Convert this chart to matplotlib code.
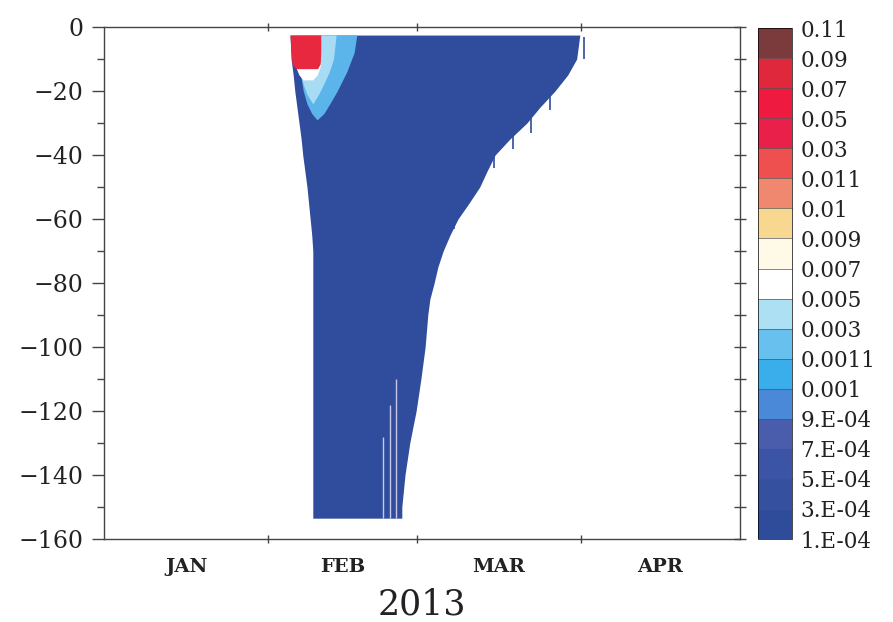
import numpy as np
import matplotlib
matplotlib.use('Agg')
import matplotlib.pyplot as plt
from matplotlib.colors import ListedColormap, BoundaryNorm
import matplotlib.colorbar as mcolorbar

# ── data (days since 1 Jan 2013, depth in m) ───────────────────────────────
# main plume (1e-4 .. 3e-4 band)
plume_depth = [-2.5, -10, -15, -20, -25, -30, -35, -40, -45, -50, -55, -60,
               -65, -70, -75, -80, -85, -90, -100, -110, -120, -130, -140,
               -150, -153.5]
plume_left = [35.1, 35.3, 35.7, 36.0, 36.4, 36.8, 37.2, 37.5, 37.9, 38.3,
              38.6, 38.9, 39.2, 39.4, 39.4, 39.4, 39.4, 39.4, 39.4, 39.4,
              39.4, 39.4, 39.4, 39.4, 39.4]
plume_right = [89.8, 89.2, 87.5, 85.1, 82.3, 79.8, 76.6, 73.8, 72.3, 70.9,
               68.9, 66.8, 65.3, 64.0, 63.0, 62.3, 61.5, 61.1, 60.6, 59.8,
               58.9, 57.7, 56.8, 56.2, 56.2]

# 0.0011 .. 0.003 band
mid_depth = [-2.5, -8, -14, -20, -24, -27, -29]
mid_left = [36.5, 36.6, 37.0, 37.6, 38.3, 39.2, 40.2]
mid_right = [47.7, 47.2, 45.8, 44.0, 42.6, 41.5, 40.2]

# 0.003 .. 0.005 band
pale_depth = [-2.5, -10, -14, -18, -21, -24]
pale_left = [40.9, 36.8, 37.0, 37.6, 38.3, 39.4]
pale_right = [43.8, 43.3, 42.5, 41.4, 40.5, 39.4]

# 0.005 .. 0.009 band just under the red core
white_depth = [-11, -13, -15, -16.5]
white_left = [36.2, 36.3, 36.8, 37.6]
white_right = [40.9, 40.7, 40.2, 39.4]

# red core (0.011 .. 0.05)
red_depth = [-2.5, -8, -11.5, -13]
red_left = [35.1, 35.3, 35.5, 36.2]
red_right = [40.9, 40.9, 40.8, 40.3]

# short dark teeth hanging from the ragged right edge
edge_streak_day = [90.5, 84.2, 80.6, 77.2, 73.6, 66.0]
edge_streak_top = [-3, -21, -28, -33, -39, -58]
edge_streak_bot = [-10, -26, -33, -38, -44, -63]

# pale streaks inside the plume near its lower right edge
streak_day = [52.6, 53.9, 55.1]
streak_top = [-128, -118, -110]
streak_bot = [-153.5, -153.5, -153.5]

# colour scale
levels = [1e-4, 3e-4, 5e-4, 7e-4, 9e-4, 1e-3, 1.1e-3, 3e-3, 5e-3, 7e-3,
          9e-3, 1e-2, 1.1e-2, 3e-2, 5e-2, 7e-2, 9e-2, 0.11]
level_labels = ['1.E-04', '3.E-04', '5.E-04', '7.E-04', '9.E-04', '0.001',
                '0.0011', '0.003', '0.005', '0.007', '0.009', '0.01', '0.011',
                '0.03', '0.05', '0.07', '0.09', '0.11']
band_colors = ['#2e4c9a', '#34509e', '#3c54a6', '#4a5cac', '#4a88d8',
               '#3aaeea', '#68c0ee', '#aee0f4', '#ffffff', '#fffae8',
               '#f8d890', '#f08870', '#ee5050', '#e8204a', '#ee1a40',
               '#e0283c', '#7b3a3c']

month_edges = [31, 59, 90]
month_mid = [15.5, 45, 74.5, 105]
month_names = ['JAN', 'FEB', 'MAR', 'APR']

# ── plot ────────────────────────────────────────────────────────────────────
FONT = 'DejaVu Serif'
TXT = '#222222'
fig = plt.figure(figsize=(8.93, 6.22), dpi=100)
ax = fig.add_axes([0.1165, 0.1335, 0.712, 0.823])

ax.fill_betweenx(plume_depth, plume_left, plume_right, color='#2f4d9c', lw=0)
ax.vlines(edge_streak_day, edge_streak_bot, edge_streak_top,
          color='#2f4d9c', lw=1.2)
ax.fill_betweenx(mid_depth, mid_left, mid_right, color='#5cb5ea', lw=0)
ax.fill_betweenx(pale_depth, pale_left, pale_right, color='#a8dcf4', lw=0)
ax.fill_betweenx(white_depth, white_left, white_right, color='#ffffff', lw=0)
ax.fill_betweenx(red_depth, red_left, red_right, color='#e8283e', lw=0)
ax.vlines(streak_day, streak_bot, streak_top, color='#c9c6ea', lw=1.0)

ax.set_xlim(0, 120)
ax.set_ylim(-160, 0)

ax.set_yticks(np.arange(-160, 1, 20))
ax.set_yticks(np.arange(-150, 0, 20), minor=True)
ax.set_xticks(month_edges)
ax.set_xticklabels([])
ax.set_xticks(month_mid, minor=True)
ax.set_xticklabels(month_names, minor=True)

ax.tick_params(axis='y', which='major', direction='out', length=9, width=1,
               labelsize=17, pad=6, labelcolor=TXT, color='#444444')
ax.tick_params(axis='y', which='minor', direction='out', length=5, width=1,
               color='#444444')
ax.tick_params(axis='x', which='major', direction='inout', length=6, width=1,
               top=True, color='#444444')
ax.tick_params(axis='x', which='minor', length=0, labelsize=14, pad=14,
               labelcolor=TXT)
for lab in ax.get_yticklabels():
    lab.set_fontfamily(FONT)
for lab in ax.get_xticklabels(minor=True):
    lab.set_fontfamily(FONT)
    lab.set_fontweight('bold')

# right spine gets its own ticks every 10 m
rax = ax.secondary_yaxis('right')
rax.set_yticks(np.arange(-160, 1, 10))
rax.tick_params(direction='inout', length=8, width=1, labelright=False,
                color='#444444')
rax.spines['right'].set_visible(False)

for s in ax.spines.values():
    s.set_linewidth(1.0)
    s.set_color('#444444')

fig.text(0.4726, 0.028, '2013', ha='center', va='center',
         fontsize=25, family=FONT, color=TXT)

# colorbar
cax = fig.add_axes([0.8488, 0.1334, 0.038, 0.8215])
cmap = ListedColormap(band_colors)
norm = BoundaryNorm(levels, cmap.N)
cb = mcolorbar.ColorbarBase(cax, cmap=cmap, norm=norm, boundaries=levels,
                            spacing='uniform', ticks=levels, drawedges=True)
cb.dividers.set_color('#555555')
cb.dividers.set_linewidth(0.5)
cb.outline.set_linewidth(0.5)
cb.set_ticklabels(level_labels)
cax.tick_params(length=0, labelsize=15.5, pad=6, labelcolor=TXT)
for lab in cax.get_yticklabels():
    lab.set_fontfamily(FONT)

fig.savefig('out.png', dpi=100)
